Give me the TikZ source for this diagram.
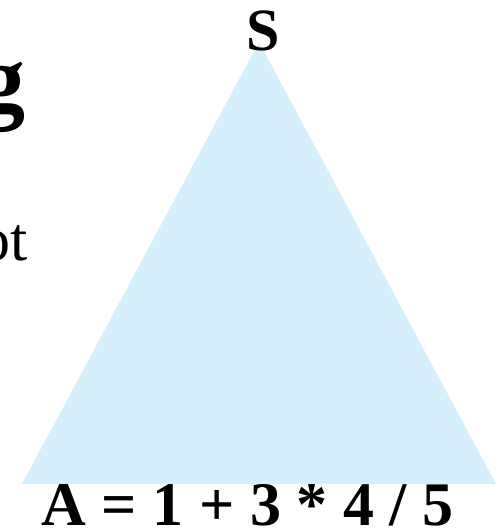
\documentclass[tikz,border=0pt]{standalone}
\usepackage{fontspec}
\setmainfont{Liberation Serif}
\definecolor{triblue}{RGB}{214,239,252}
\begin{document}
\begin{tikzpicture}[x=1pt, y=-1pt, lbl/.style = {inner sep=0pt, anchor=base, font=\fontsize{60}{60}\selectfont\bfseries}]
            \useasboundingbox (0,0) rectangle (503,530);
            \coordinate (top) at (259,42);
            \coordinate (left) at (22,484);
            \coordinate (right) at (496,484);
            \fill[triblue] (top) -- (left) -- (right) -- cycle;
            \node[lbl] (s) at (263.5,50) {S};
            \node[lbl, font=\fontsize{62}{62}\selectfont\bfseries] (a) at (247.5,525) {A = 1 + 3 * 4 / 5};
            \node[inner sep=0pt, anchor=base east, font=\fontsize{96}{96}\selectfont\bfseries] (g) at (26,111) {g};
            \node[inner sep=0pt, anchor=base east, font=\fontsize{62}{62}\selectfont] (ot) at (28,260) {ot};
\end{tikzpicture}
\end{document}
